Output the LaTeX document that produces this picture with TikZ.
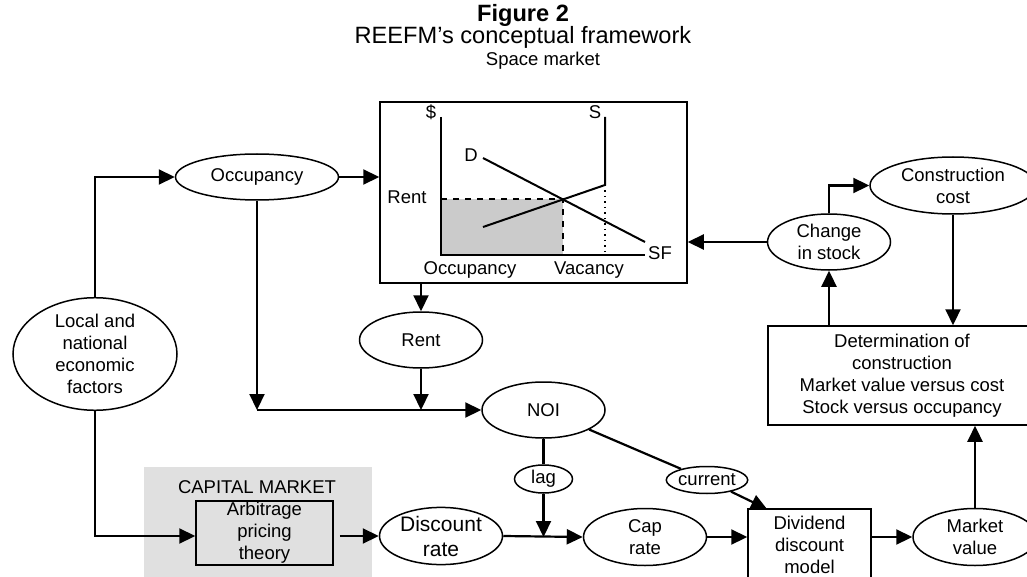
\documentclass[tikz,border=0pt]{standalone}
\usepackage{fontspec}
\setmainfont{Liberation Sans}
\usetikzlibrary{shapes.geometric,arrows.meta}
\definecolor{capgray}{HTML}{E0E0E0}
\definecolor{chartgray}{HTML}{CBCBCB}
\begin{document}
\begin{tikzpicture}[x=0.5pt,y=-0.5pt,
  every node/.style={font=\fontsize{9.25}{11}\selectfont, inner sep=0pt, align=center},
  ell/.style={ellipse, draw, line width=0.75pt, fill=white},
  box/.style={rectangle, draw, line width=0.75pt},
  conn/.style={line width=1.1pt},
  arr/.style={conn, -{Triangle[length=8pt,width=7.5pt]}},
  chart/.style={line width=1pt},
]
\useasboundingbox (0,0) rectangle (1027,577);
\clip (0,0) rectangle (1027,577);

% titles
\node[font=\fontsize{11.8}{14}\selectfont\bfseries] (t1) at (523,15) {Figure 2};
\node[font=\fontsize{11.8}{14}\selectfont] (t2) at (523,37) {REEFM’s conceptual framework};

% space market
\node (smlabel) at (543,61) {Space market};
\node[box, minimum width=153.5pt, minimum height=90.5pt] (space) at (533.5,192.5) {};
\fill[chartgray] (441,199) rectangle (563,255);
\draw[chart] (441,117) -- (441,255) -- (645,255);
\draw[chart] (605,117) -- (605,185) -- (483,227);
\draw[chart] (483,158) -- (645,242);
\draw[dashed, line width=0.75pt] (441,199) -- (563,199) -- (563,255);
\draw[dotted, line width=0.75pt] (605,185) -- (605,255);
\node (ldollar) at (431,112) {\$};
\node (lS) at (595,112) {S};
\node (lD) at (471,155) {D};
\node (lrent) at (407,197) {Rent};
\node (lSF) at (660,253) {SF};
\node (locc) at (470,270) {Occupancy};
\node (lvac) at (589,270) {Vacancy};

% capital market
\fill[capgray] (144,467) rectangle (372,580);
\node (capm) at (257,487) {CAPITAL MARKET};
\node[box, minimum width=68.5pt, minimum height=32pt] (apt) at (264.5,533) {Arbitrage\\pricing\\theory};

% ellipses
\node[ell, minimum width=81.5pt, minimum height=23pt] (occ) at (257,177) {Occupancy};
\node[ell, minimum width=82pt, minimum height=56pt] (local) at (95,354) {Local and\\national\\economic\\factors};
\node[ell, minimum width=61.5pt, minimum height=28pt] (rent) at (421,340) {Rent};
\node[ell, minimum width=61.5pt, minimum height=28pt] (noi) at (543.5,410) {NOI};
\node[ell, minimum width=29pt, minimum height=14pt] (lag) at (543.5,479) {lag};
\node[ell, minimum width=40pt, minimum height=13.5pt] (cur) at (707,480) {current};
\node[ell, font=\fontsize{10.5}{12.5}\selectfont, minimum width=61.5pt, minimum height=28.5pt] (disc) at (441,536) {Discount\\rate};
\node[ell, minimum width=61.5pt, minimum height=28.5pt] (cap) at (645,537) {Cap\\rate};
\node[ell, minimum width=62pt, minimum height=28.5pt] (mv) at (975,537) {Market\\value};
\node[ell, minimum width=61.5pt, minimum height=28pt] (chg) at (829,242) {Change\\in stock};
\node[ell, minimum width=83pt, minimum height=28.5pt] (cc) at (953,185.5) {Construction\\cost};

% boxes
\node[box, minimum width=134pt, minimum height=49.5pt] (det) at (902,375.5) {Determination of\\construction\\Market value versus cost\\Stock versus occupancy};
\node[box, minimum width=61.5pt, minimum height=36pt] (ddm) at (809.5,545) {Dividend\\discount\\model};

% connectors
\draw[arr] (local.north) |- (occ.west);
\draw[arr] (local.south) |- (apt.west |- disc.west);
\draw[arr, shorten <=3pt] (apt.east |- disc.west) -- (disc.west);
\draw[arr] (occ.east) -- (space.west |- occ.east);
\coordinate (j1) at (occ.south |- noi.west);
\draw[arr] (occ.south) -- (j1);
\draw[arr] (j1) -- (noi.west);
\draw[arr] (space.south -| rent.north) -- (rent.north);
\draw[arr] (rent.south) -- (rent.south |- noi.west);
\draw[conn] (noi.south) -- (lag.north);
\draw[arr] (lag.south) -- (lag.south |- cap.west);
\draw[arr] (disc.east) -- (cap.west);
\draw[conn] (noi) -- (cur);
\coordinate (ddmt) at (767,509);
\draw[arr] (cur) -- (ddmt);
\draw[arr] (cap.east) -- (ddm.west |- cap.east);
\draw[arr] (ddm.east |- mv.west) -- (mv.west);
\draw[arr] (mv.north) -- (det.south -| mv.north);
\draw[arr] (det.north -| chg.south) -- (chg.south);
\draw[arr] (chg.west) -- (space.east |- chg.west);
\draw[arr] (chg.north) |- (cc.west);
\draw[arr] (cc.south) -- (det.north -| cc.south);
\end{tikzpicture}
\end{document}
